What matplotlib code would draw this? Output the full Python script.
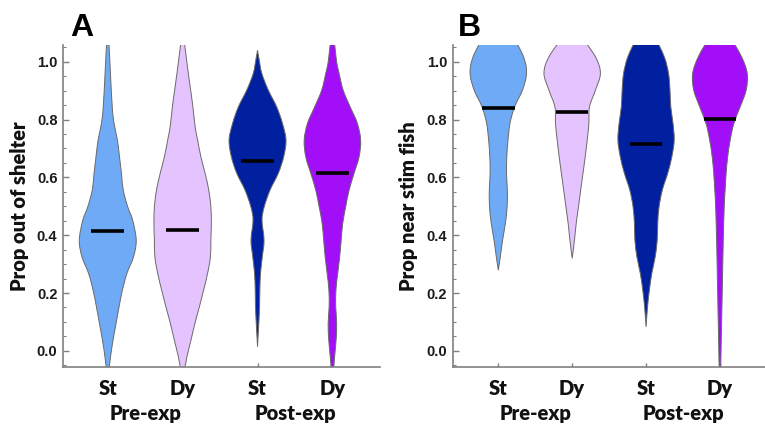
import matplotlib
matplotlib.use("Agg")
import matplotlib.pyplot as plt
from matplotlib.path import Path
from matplotlib.patches import PathPatch
from matplotlib.ticker import MultipleLocator, FormatStrFormatter


# group names / colours
conds = ['St', 'Dy', 'St', 'Dy']
groups = ['Pre-exp', 'Post-exp']
colors = ['#6eaaf5', '#e5c3ff', '#0020a0', '#a30ef9']

# panel A: prop out of shelter -- violin outlines (level, half width)
a_levels = [
    [1.09, 0.96, 0.844, 0.787, 0.729, 0.671, 0.614, 0.556, 0.498, 0.452, 0.383, 0.325, 0.268, 0.21, 0.152, 0.095, 0.037, -0.021, -0.08],
    [1.09, 0.96, 0.902, 0.844, 0.775, 0.729, 0.671, 0.614, 0.556, 0.498, 0.44, 0.383, 0.325, 0.268, 0.21, 0.152, 0.095, 0.037, -0.021, -0.08],
    [1.04, 1.006, 0.96, 0.902, 0.844, 0.787, 0.729, 0.671, 0.614, 0.556, 0.498, 0.452, 0.383, 0.325, 0.268, 0.21, 0.152, 0.095, 0.014],
    [1.09, 1.006, 0.96, 0.902, 0.844, 0.787, 0.729, 0.671, 0.614, 0.556, 0.498, 0.44, 0.383, 0.325, 0.268, 0.21, 0.152, 0.095, 0.037, -0.021, -0.08],
]
a_widths = [
    [0.011, 0.036, 0.060, 0.084, 0.129, 0.157, 0.183, 0.207, 0.267, 0.333, 0.380, 0.344, 0.256, 0.196, 0.151, 0.111, 0.071, 0.037, 0.011],
    [0.012, 0.076, 0.107, 0.137, 0.167, 0.200, 0.244, 0.300, 0.349, 0.377, 0.383, 0.377, 0.371, 0.333, 0.280, 0.223, 0.164, 0.111, 0.057, 0.016],
    [0.0, 0.023, 0.057, 0.144, 0.256, 0.333, 0.380, 0.349, 0.277, 0.167, 0.089, 0.060, 0.087, 0.064, 0.040, 0.031, 0.027, 0.017, 0.0],
    [0.020, 0.053, 0.089, 0.143, 0.237, 0.333, 0.377, 0.356, 0.289, 0.223, 0.177, 0.137, 0.117, 0.097, 0.071, 0.047, 0.044, 0.057, 0.049, 0.029, 0.012],
]
a_medians = [0.414, 0.418, 0.657, 0.614]

# panel B: prop near stim fish
b_levels = [
    [1.09, 1.017, 0.96, 0.902, 0.844, 0.787, 0.729, 0.671, 0.614, 0.556, 0.498, 0.44, 0.383, 0.325, 0.279],
    [1.09, 1.017, 0.96, 0.902, 0.844, 0.787, 0.729, 0.671, 0.614, 0.556, 0.498, 0.44, 0.383, 0.32],
    [1.09, 1.017, 0.96, 0.902, 0.844, 0.787, 0.729, 0.671, 0.614, 0.556, 0.498, 0.44, 0.383, 0.325, 0.268, 0.21, 0.152, 0.083],
    [1.09, 1.017, 0.96, 0.902, 0.844, 0.787, 0.729, 0.671, 0.614, 0.556, 0.498, 0.383, 0.268, 0.152, 0.037, -0.08],
]
b_widths = [
    [0.196, 0.342, 0.382, 0.327, 0.220, 0.158, 0.131, 0.115, 0.111, 0.122, 0.119, 0.095, 0.058, 0.027, 0.0],
    [0.116, 0.315, 0.382, 0.315, 0.234, 0.226, 0.203, 0.176, 0.146, 0.115, 0.085, 0.054, 0.031, 0.0],
    [0.115, 0.247, 0.304, 0.324, 0.335, 0.365, 0.381, 0.349, 0.293, 0.220, 0.176, 0.158, 0.151, 0.124, 0.078, 0.045, 0.020, 0.0],
    [0.132, 0.293, 0.369, 0.355, 0.274, 0.189, 0.139, 0.105, 0.084, 0.070, 0.058, 0.045, 0.036, 0.027, 0.018, 0.009],
]
b_medians = [0.841, 0.825, 0.716, 0.803]

LABEL_FONT = dict(fontsize=14.5, fontweight='heavy', family='Lato', color='#111111')


def smooth_side(pts):
    # catmull-rom -> bezier control points for a run of points
    verts, codes = [], []
    n = len(pts)
    for i in range(n - 1):
        p0 = pts[i - 1] if i > 0 else pts[i]
        p1 = pts[i]
        p2 = pts[i + 1]
        p3 = pts[i + 2] if i + 2 < n else pts[i + 1]
        c1 = (p1[0] + (p2[0] - p0[0]) / 6, p1[1] + (p2[1] - p0[1]) / 6)
        c2 = (p2[0] - (p3[0] - p1[0]) / 6, p2[1] - (p3[1] - p1[1]) / 6)
        verts += [c1, c2, p2]
        codes += [Path.CURVE4] * 3
    return verts, codes


def violin(ax, pos, lev, hw, col):
    right = [(pos + w, y) for y, w in zip(lev, hw)]
    left = [(pos - w, y) for y, w in zip(lev, hw)][::-1]
    verts = [right[0]]
    codes = [Path.MOVETO]
    v, c = smooth_side(right)
    verts += v
    codes += c
    verts.append(left[0])
    codes.append(Path.LINETO)
    v, c = smooth_side(left)
    verts += v
    codes += c
    verts.append(right[0])
    codes.append(Path.CLOSEPOLY)
    ax.add_patch(PathPatch(Path(verts, codes), facecolor=col,
                           edgecolor='#6a6a6a', lw=0.7, zorder=2))


def panel(ax, levels, widths, medians, ylabel, xlim):
    for i in range(4):
        violin(ax, i + 1, levels[i], widths[i], colors[i])
        ax.plot([i + 1 - 0.22, i + 1 + 0.22], [medians[i]] * 2,
                color='black', lw=2.6, solid_capstyle='butt', zorder=3)
    ax.set_xlim(*xlim)
    ax.set_ylim(-0.055, 1.058)
    for s in ['top', 'right']:
        ax.spines[s].set_visible(False)
    for s in ['left', 'bottom']:
        ax.spines[s].set_color('#808080')
        ax.spines[s].set_linewidth(1.2)
    ax.yaxis.set_major_locator(MultipleLocator(0.2))
    ax.yaxis.set_minor_locator(MultipleLocator(0.05))
    ax.yaxis.set_major_formatter(FormatStrFormatter('%.1f'))
    ax.set_xticks([1, 2, 3, 4])
    ax.set_xticklabels([])
    ax.tick_params(axis='both', which='both', direction='in', color='#808080')
    ax.tick_params(axis='y', which='major', length=4, width=1, pad=4,
                   labelsize=10.5, labelcolor='#1a1a1a')
    ax.tick_params(axis='y', which='minor', length=2, width=0.8)
    ax.tick_params(axis='x', length=3, width=1)
    for t in ax.get_yticklabels():
        t.set_fontfamily('Liberation Sans')
        t.set_fontweight('bold')
    tr = ax.get_xaxis_transform()
    for i, lab in enumerate(conds):
        ax.text(i + 1, -0.088, lab, transform=tr, ha='center', va='baseline',
                **LABEL_FONT)
    for j, g in enumerate(groups):
        ax.text(1.5 + 2 * j, -0.166, g, transform=tr, ha='center', va='baseline',
                **LABEL_FONT)
    ax.set_ylabel(ylabel, labelpad=6, **LABEL_FONT)


fig = plt.figure(figsize=(7.65, 4.28), dpi=100)
axA = fig.add_axes([0.0824, 0.1432, 0.4144, 0.7516])
axB = fig.add_axes([0.5918, 0.1432, 0.4082, 0.7516])

panel(axA, a_levels, a_widths, a_medians, 'Prop out of shelter', (0.403, 4.636))
panel(axB, b_levels, b_widths, b_medians, 'Prop near stim fish', (0.383, 4.61))

fig.text(0.0915, 0.916, 'A', fontsize=23, fontweight='bold', family='Liberation Sans')
fig.text(0.599, 0.916, 'B', fontsize=23, fontweight='bold', family='Liberation Sans')

fig.savefig('out.png', dpi=100)
